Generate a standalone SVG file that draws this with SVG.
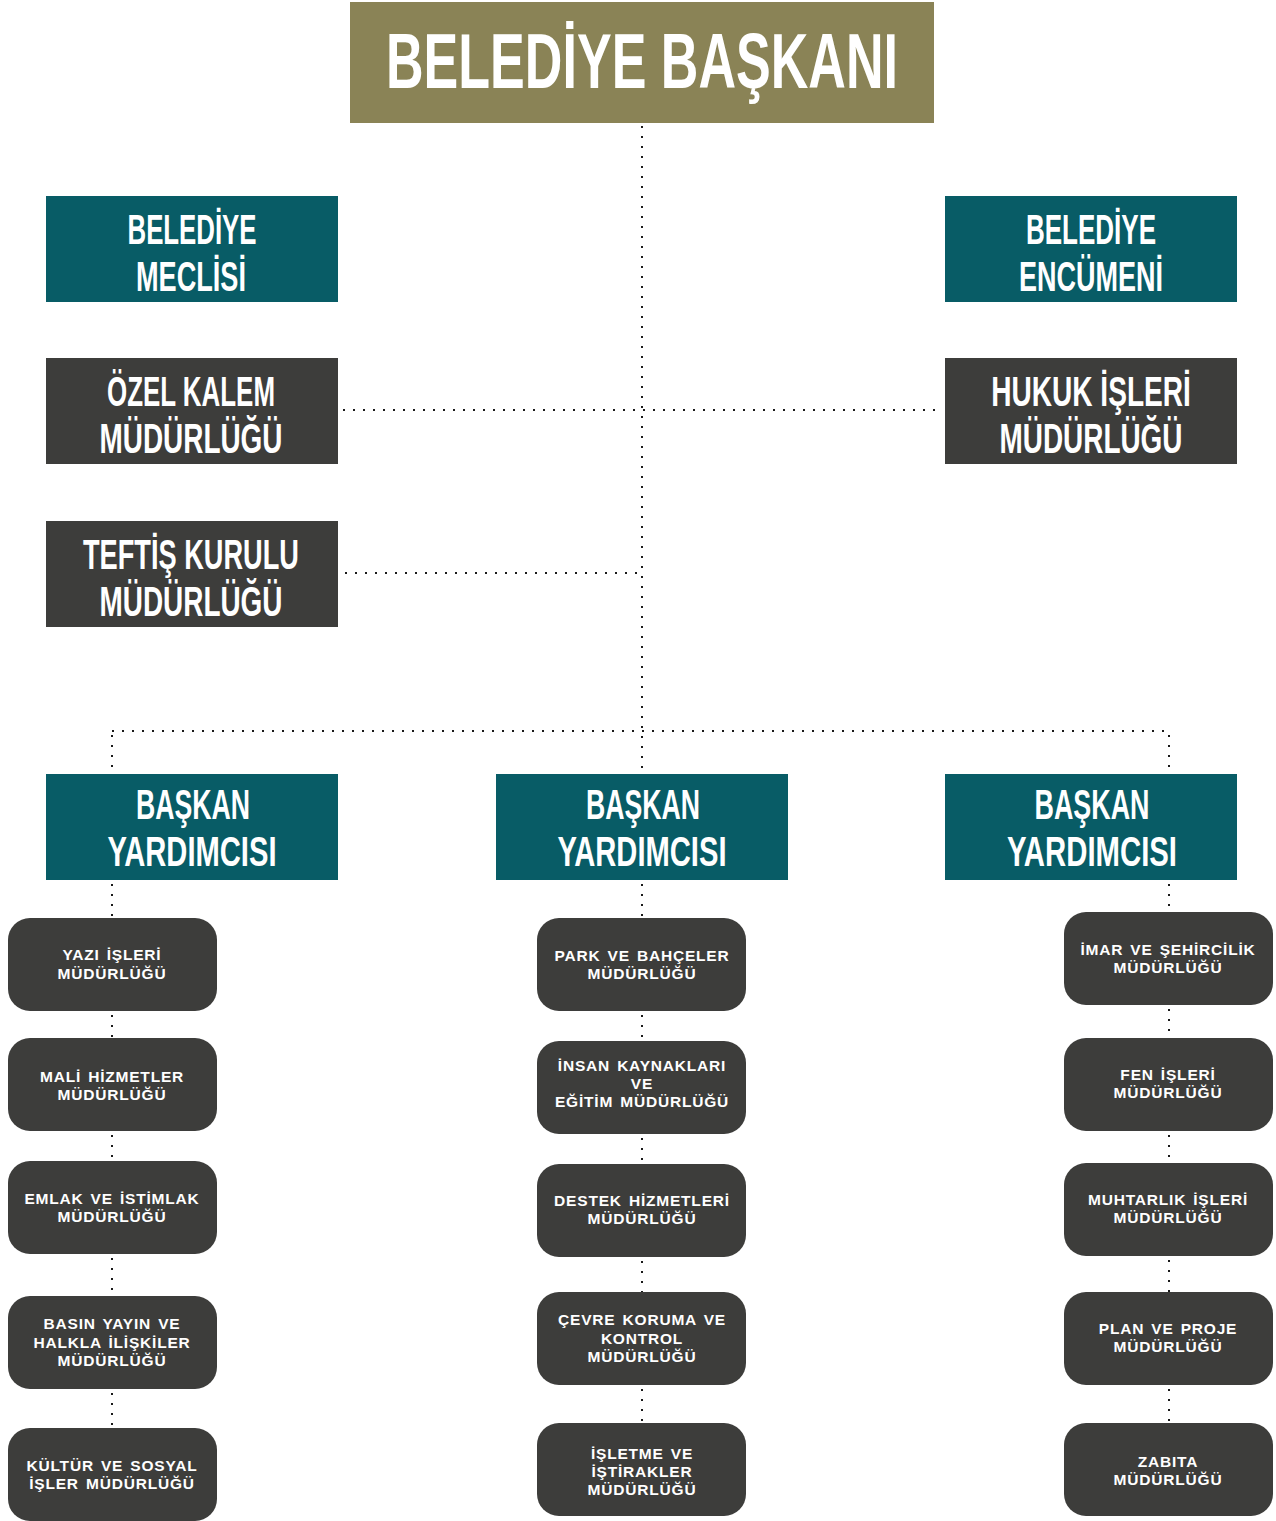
<svg xmlns="http://www.w3.org/2000/svg" width="1276" height="1521" viewBox="0 0 1276 1521">
<style>
.big{font-family:"Liberation Sans",Arial,sans-serif;font-weight:700;fill:#fff;text-anchor:middle}
.sm{font-family:"Liberation Sans",Arial,sans-serif;font-weight:700;font-size:15.5px;fill:#fff;text-anchor:middle;letter-spacing:0.8px;word-spacing:2px}
.olive{fill:#8a8356}
.teal{fill:#085c66}
.dark{fill:#3d3d3b}
.dot{stroke:#1a1a1a;stroke-width:2;stroke-dasharray:2 8;fill:none}
</style>
<rect width="1276" height="1521" fill="#fff"/>
<g id="connectors">
<line class="dot" x1="642" y1="126" x2="642" y2="774"/>
<line class="dot" x1="343" y1="410" x2="940" y2="410"/>
<line class="dot" x1="345" y1="573" x2="640" y2="573"/>
<line class="dot" x1="112" y1="731" x2="1170" y2="731"/>
<line class="dot" x1="112" y1="735" x2="112" y2="774"/>
<line class="dot" x1="1169" y1="735" x2="1169" y2="774"/>
<line class="dot" x1="112" y1="884" x2="112" y2="918"/>
<line class="dot" x1="642" y1="884" x2="642" y2="918"/>
<line class="dot" x1="1169" y1="884" x2="1169" y2="912"/>
<line class="dot" x1="112" y1="1015" x2="112" y2="1038"/>
<line class="dot" x1="112" y1="1135" x2="112" y2="1161"/>
<line class="dot" x1="112" y1="1258" x2="112" y2="1296"/>
<line class="dot" x1="112" y1="1393" x2="112" y2="1428"/>
<line class="dot" x1="642" y1="1015" x2="642" y2="1041"/>
<line class="dot" x1="642" y1="1138" x2="642" y2="1164"/>
<line class="dot" x1="642" y1="1261" x2="642" y2="1292"/>
<line class="dot" x1="642" y1="1389" x2="642" y2="1423"/>
<line class="dot" x1="1169" y1="1009" x2="1169" y2="1038"/>
<line class="dot" x1="1169" y1="1135" x2="1169" y2="1163"/>
<line class="dot" x1="1169" y1="1260" x2="1169" y2="1292"/>
<line class="dot" x1="1169" y1="1389" x2="1169" y2="1423"/>
</g>
<g id="baskan">
<rect class="olive" x="350" y="2" width="584" height="121"/>
<text class="big" x="642" y="88" font-size="77" textLength="512" lengthAdjust="spacingAndGlyphs">BELEDİYE BAŞKANI</text>
</g>
<g id="meclis">
<rect class="teal" x="46" y="196" width="292" height="106"/>
<text class="big" x="192" y="244" font-size="42" textLength="129" lengthAdjust="spacingAndGlyphs">BELEDİYE</text>
<text class="big" x="191" y="291" font-size="42" textLength="110" lengthAdjust="spacingAndGlyphs">MECLİSİ</text>
</g>
<g id="encumen">
<rect class="teal" x="945" y="196" width="292" height="106"/>
<text class="big" x="1091" y="244" font-size="42" textLength="130" lengthAdjust="spacingAndGlyphs">BELEDİYE</text>
<text class="big" x="1091" y="291" font-size="42" textLength="144" lengthAdjust="spacingAndGlyphs">ENCÜMENİ</text>
</g>
<g id="ozelkalem">
<rect class="dark" x="46" y="358" width="292" height="106"/>
<text class="big" x="191" y="406" font-size="42" textLength="168" lengthAdjust="spacingAndGlyphs">ÖZEL KALEM</text>
<text class="big" x="191" y="453" font-size="42" textLength="183" lengthAdjust="spacingAndGlyphs">MÜDÜRLÜĞÜ</text>
</g>
<g id="hukuk">
<rect class="dark" x="945" y="358" width="292" height="106"/>
<text class="big" transform="translate(1091,406) scale(0.669,1)" x="0" y="0" font-size="42">HUKUK İŞLERİ</text>
<text class="big" x="1091" y="453" font-size="42" textLength="183" lengthAdjust="spacingAndGlyphs">MÜDÜRLÜĞÜ</text>
</g>
<g id="teftis">
<rect class="dark" x="46" y="521" width="292" height="106"/>
<text class="big" x="191" y="569" font-size="42" textLength="216" lengthAdjust="spacingAndGlyphs">TEFTİŞ KURULU</text>
<text class="big" x="191" y="616" font-size="42" textLength="183" lengthAdjust="spacingAndGlyphs">MÜDÜRLÜĞÜ</text>
</g>
<g id="yardimci1">
<rect class="teal" x="46" y="774" width="292" height="106"/>
<text class="big" x="193" y="819" font-size="42" textLength="114" lengthAdjust="spacingAndGlyphs">BAŞKAN</text>
<text class="big" x="192" y="866" font-size="42" textLength="169" lengthAdjust="spacingAndGlyphs">YARDIMCISI</text>
</g>
<g id="yardimci2">
<rect class="teal" x="496" y="774" width="292" height="106"/>
<text class="big" x="643" y="819" font-size="42" textLength="114" lengthAdjust="spacingAndGlyphs">BAŞKAN</text>
<text class="big" x="642" y="866" font-size="42" textLength="169" lengthAdjust="spacingAndGlyphs">YARDIMCISI</text>
</g>
<g id="yardimci3">
<rect class="teal" x="945" y="774" width="292" height="106"/>
<text class="big" x="1092" y="819" font-size="42" textLength="115" lengthAdjust="spacingAndGlyphs">BAŞKAN</text>
<text class="big" x="1092" y="866" font-size="42" textLength="170" lengthAdjust="spacingAndGlyphs">YARDIMCISI</text>
</g>
<g id="yazi">
<rect class="dark" x="8" y="918" width="209" height="93" rx="22"/>
<text class="sm" x="112" y="960">YAZI İŞLERİ</text>
<text class="sm" x="112" y="979">MÜDÜRLÜĞÜ</text>
</g>
<g id="mali">
<rect class="dark" x="8" y="1038" width="209" height="93" rx="22"/>
<text class="sm" x="112" y="1082">MALİ HİZMETLER</text>
<text class="sm" x="112" y="1100">MÜDÜRLÜĞÜ</text>
</g>
<g id="emlak">
<rect class="dark" x="8" y="1161" width="209" height="93" rx="22"/>
<text class="sm" x="112" y="1204">EMLAK VE İSTİMLAK</text>
<text class="sm" x="112" y="1222">MÜDÜRLÜĞÜ</text>
</g>
<g id="basin">
<rect class="dark" x="8" y="1296" width="209" height="93" rx="22"/>
<text class="sm" x="112" y="1329">BASIN YAYIN VE</text>
<text class="sm" x="112" y="1348">HALKLA İLİŞKİLER</text>
<text class="sm" x="112" y="1366">MÜDÜRLÜĞÜ</text>
</g>
<g id="kultur">
<rect class="dark" x="8" y="1428" width="209" height="93" rx="22"/>
<text class="sm" x="112" y="1471">KÜLTÜR VE SOSYAL</text>
<text class="sm" x="112" y="1489">İŞLER MÜDÜRLÜĞÜ</text>
</g>
<g id="park">
<rect class="dark" x="537" y="918" width="209" height="93" rx="22"/>
<text class="sm" x="642" y="961">PARK VE BAHÇELER</text>
<text class="sm" x="642" y="979">MÜDÜRLÜĞÜ</text>
</g>
<g id="insan">
<rect class="dark" x="537" y="1041" width="209" height="93" rx="22"/>
<text class="sm" x="642" y="1071">İNSAN KAYNAKLARI</text>
<text class="sm" x="642" y="1089">VE</text>
<text class="sm" x="642" y="1107">EĞİTİM MÜDÜRLÜĞÜ</text>
</g>
<g id="destek">
<rect class="dark" x="537" y="1164" width="209" height="93" rx="22"/>
<text class="sm" x="642" y="1206">DESTEK HİZMETLERİ</text>
<text class="sm" x="642" y="1224">MÜDÜRLÜĞÜ</text>
</g>
<g id="cevre">
<rect class="dark" x="537" y="1292" width="209" height="93" rx="22"/>
<text class="sm" x="642" y="1325">ÇEVRE KORUMA VE</text>
<text class="sm" x="642" y="1344">KONTROL</text>
<text class="sm" x="642" y="1362">MÜDÜRLÜĞÜ</text>
</g>
<g id="isletme">
<rect class="dark" x="537" y="1423" width="209" height="93" rx="22"/>
<text class="sm" x="642" y="1459">İŞLETME VE</text>
<text class="sm" x="642" y="1477">İŞTİRAKLER</text>
<text class="sm" x="642" y="1495">MÜDÜRLÜĞÜ</text>
</g>
<g id="imar">
<rect class="dark" x="1064" y="912" width="209" height="93" rx="22"/>
<text class="sm" x="1168" y="955">İMAR VE ŞEHİRCİLİK</text>
<text class="sm" x="1168" y="973">MÜDÜRLÜĞÜ</text>
</g>
<g id="fen">
<rect class="dark" x="1064" y="1038" width="209" height="93" rx="22"/>
<text class="sm" x="1168" y="1080">FEN İŞLERİ</text>
<text class="sm" x="1168" y="1098">MÜDÜRLÜĞÜ</text>
</g>
<g id="muhtarlik">
<rect class="dark" x="1064" y="1163" width="209" height="93" rx="22"/>
<text class="sm" x="1168" y="1205">MUHTARLIK İŞLERİ</text>
<text class="sm" x="1168" y="1223">MÜDÜRLÜĞÜ</text>
</g>
<g id="plan">
<rect class="dark" x="1064" y="1292" width="209" height="93" rx="22"/>
<text class="sm" x="1168" y="1334">PLAN VE PROJE</text>
<text class="sm" x="1168" y="1352">MÜDÜRLÜĞÜ</text>
</g>
<g id="zabita">
<rect class="dark" x="1064" y="1423" width="209" height="93" rx="22"/>
<text class="sm" x="1168" y="1467">ZABITA</text>
<text class="sm" x="1168" y="1485">MÜDÜRLÜĞÜ</text>
</g>
</svg>
